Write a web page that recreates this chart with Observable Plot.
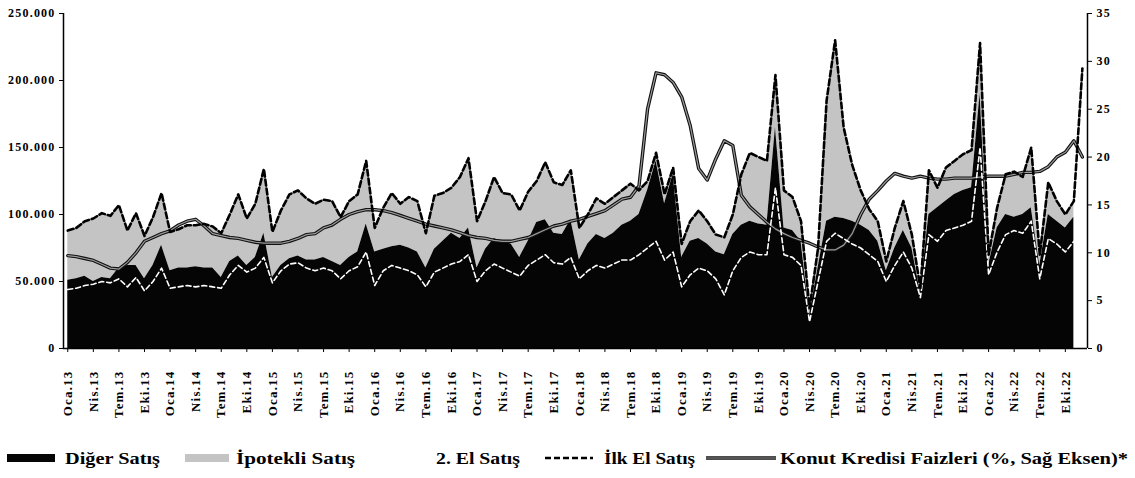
<!DOCTYPE html>
<html><head><meta charset="utf-8">
<script src="https://cdn.jsdelivr.net/npm/d3@7"></script>
<script src="https://cdn.jsdelivr.net/npm/@observablehq/plot@0.6"></script>
<style>
body{margin:0;background:#fff;}
#wrap{position:relative;width:1135px;height:478px;overflow:hidden;}
#legend{position:absolute;left:0;top:425px;}
</style></head><body><div id="wrap"><div id="chart"></div><div id="legend"></div></div>
<script>
// Tick labels (every 3 months)
const tickLabels = [
"Oca.13","Nis.13","Tem.13","Eki.13","Oca.14","Nis.14","Tem.14","Eki.14",
"Oca.15","Nis.15","Tem.15","Eki.15","Oca.16","Nis.16","Tem.16","Eki.16",
"Oca.17","Nis.17","Tem.17","Eki.17","Oca.18","Nis.18","Tem.18","Eki.18",
"Oca.19","Nis.19","Tem.19","Eki.19","Oca.20","Nis.20","Tem.20","Eki.20",
"Oca.21","Nis.21","Tem.21","Eki.21","Oca.22","Nis.22","Tem.22","Eki.22"];

// Toplam satış (thousand) = top of the İpotekli band
const toplam = [
 88, 90, 95, 97,101, 99,107, 88,101, 84, 98,116,
 87, 89, 92, 92, 93, 91, 86,100,115, 97,108,134,
 87,103,115,118,112,108,111,110, 98,110,115,140,
 90,105,116,108,113,110, 86,114,116,120,128,142,
 95,110,128,116,115,103,117,125,139,124,122,133,
 90,100,112,108,113,118,123,118,125,146,115,135,
 78, 95,103, 95, 85, 83,100,130,146,143,140,204,
118,113, 95, 30, 75,185,230,165,137,118,104, 95,
 65, 90,110, 85, 45,133,120,135,140,145,148,228,
 70,105,130,132,128,150, 70,124,110,100,110,209];

// Diğer satış (thousand)
const diger = [
 51, 52, 54, 50, 53, 52, 60, 62, 62, 52, 62, 77,
 58, 60, 60, 61, 60, 60, 53, 65, 69, 62, 68, 86,
 53, 62, 67, 69, 66, 66, 68, 65, 62, 68, 72, 93,
 72, 74, 76, 77, 75, 72, 60, 74, 80, 86, 82, 90,
 60, 74, 82, 80, 78, 68, 80, 94, 96, 86, 85, 96,
 66, 78, 85, 82, 86, 92, 95,100,118,140,108,130,
 68, 80, 82, 78, 72, 70, 85, 92, 95, 93, 92,165,
 90, 88, 80, 25, 60, 95, 98, 97, 95, 92, 88, 80,
 58, 75, 88, 75, 42,100,105,110,115,118,120,190,
 62, 90,100, 98,100,105, 62,100, 95, 90, 98,null];

// 2. El satış (thousand)
const ikinciEl = [
 44, 45, 47, 48, 50, 49, 52, 46, 53, 43, 50, 60,
 45, 46, 47, 46, 47, 46, 45, 55, 62, 57, 60, 68,
 49, 58, 63, 64, 60, 58, 60, 58, 52, 58, 61, 72,
 47, 58, 62, 60, 58, 55, 46, 57, 60, 63, 65, 70,
 50, 58, 63, 60, 57, 54, 62, 66, 70, 64, 63, 68,
 52, 58, 62, 60, 63, 66, 66, 70, 75, 80, 66, 72,
 46, 55, 60, 58, 52, 40, 58, 68, 72, 70, 70,120,
 70, 68, 62, 20, 50, 80, 86, 82, 78, 75, 70, 65,
 50, 62, 72, 60, 38, 85, 80, 88, 90, 92, 95,150,
 55, 72, 85, 88, 86, 95, 52, 82, 78, 72, 80,null];

// Konut kredisi faizleri (%)
const faiz = [
 9.7, 9.6, 9.4, 9.2, 8.8, 8.4, 8.3, 9.0,10.0,11.2,11.6,12.0,
12.3,12.9,13.3,13.5,12.8,12.0,11.8,11.6,11.5,11.3,11.1,11.0,
11.0,11.0,11.2,11.5,11.9,12.0,12.6,12.9,13.5,14.0,14.3,14.5,
14.5,14.4,14.2,13.9,13.6,13.3,13.0,12.8,12.6,12.4,12.1,11.8,
11.6,11.5,11.3,11.2,11.2,11.4,11.6,12.0,12.4,12.8,13.0,13.3,
13.5,13.8,14.1,14.4,15.0,15.6,15.8,17.0,25.0,28.8,28.6,27.8,
26.3,23.3,18.8,17.6,19.8,21.7,21.2,16.0,14.8,14.0,13.2,12.5,
12.0,11.6,11.3,11.0,10.6,10.3,10.3,10.8,12.0,14.0,15.6,16.5,
17.5,18.3,18.0,17.8,18.0,17.8,17.7,17.7,17.8,17.8,17.8,17.9,
18.0,18.0,18.0,18.2,18.4,18.4,18.5,19.0,20.0,20.5,21.7,20.0];

const rows = toplam.map((t, i) => ({i, toplam: t, diger: diger[i], ikinciEl: ikinciEl[i], faiz: faiz[i]}));
const areaRows = rows.filter(d => d.diger != null);
const K = 250 / 35; // right axis (0-35) onto left axis (0-250 thousand)
const font = "'Liberation Serif', 'Times New Roman', serif";

const chart = Plot.plot({
  width: 1135, height: 425,
  marginLeft: 63, marginRight: 48, marginTop: 13, marginBottom: 77,
  x: {type: "linear", domain: [-0.5, 119.6]},
  y: {domain: [0, 250]},
  style: {fontFamily: font, fontWeight: "bold", fontSize: "12px", letterSpacing: "1.2px", color: "#000", background: "#fff"},
  marks: [
    Plot.areaY(areaRows, {x: "i", y1: "diger", y2: "toplam", fill: "#c4c4c4"}),
    Plot.areaY(areaRows, {x: "i", y: "diger", fill: "#050505"}),
    Plot.lineY(rows, {x: "i", y: d => d.faiz * K, stroke: "#111", strokeWidth: 3.4}),
    Plot.lineY(rows, {x: "i", y: d => d.faiz * K, stroke: "#9a9a9a", strokeWidth: 1.2}),
    Plot.lineY(rows, {x: "i", y: "ikinciEl", stroke: "#fff", strokeWidth: 1.6, strokeDasharray: "5,3"}),
    Plot.lineY(rows, {x: "i", y: "toplam", stroke: "#000", strokeWidth: 2.6, strokeDasharray: "6,3"}),
    Plot.ruleX([-0.5], {stroke: "#000", strokeWidth: 1.5}),
    Plot.ruleX([119.6], {stroke: "#000", strokeWidth: 1.5}),
    Plot.ruleY([0], {stroke: "#000", strokeWidth: 1.5}),
    Plot.axisY({anchor: "left", ticks: [0, 50, 100, 150, 200, 250], tickSize: 4, tickPadding: 4,
      tickFormat: d => d === 0 ? "0" : `${d}.000`, label: null}),
    Plot.axisY({anchor: "right", ticks: d3.range(0, 36, 5).map(v => v * K), tickSize: 4, tickPadding: 5,
      tickFormat: v => String(Math.round(v / K)), label: null}),
    Plot.axisX({ticks: d3.range(0, 120, 3), tickFormat: v => tickLabels[v / 3], tickRotate: -90,
      tickSize: 4, tickPadding: 18, fontSize: 13, label: null})
  ]
});
document.getElementById("chart").appendChild(chart);

// Legend
const legendItems = [
  {label: "Diğer Satış", sw: "area", color: "#050505", sx: 7, sw2: 48, tx: 65, tw: 95},
  {label: "İpotekli Satış", sw: "area", color: "#c4c4c4", sx: 185, sw2: 44, tx: 236, tw: 119},
  {label: "2. El Satış", sw: "whiteDash", sx: 390, sw2: 40, tx: 436, tw: 84},
  {label: "İlk El Satış", sw: "dash", sx: 545, sw2: 48, tx: 604, tw: 91},
  {label: "Konut Kredisi Faizleri (%, Sağ Eksen)*", sw: "rate", sx: 706, sw2: 70, tx: 780, tw: 348}
];
const lsvg = d3.create("svg").attr("width", 1135).attr("height", 53)
  .style("font-family", font).style("font-weight", "bold").style("font-size", "16px");
const cy = 33;
for (const it of legendItems) {
  if (it.sw === "area") {
    lsvg.append("rect").attr("x", it.sx).attr("y", cy - 4).attr("width", it.sw2).attr("height", 8).attr("fill", it.color);
  } else if (it.sw === "dash") {
    lsvg.append("line").attr("x1", it.sx).attr("x2", it.sx + it.sw2).attr("y1", cy).attr("y2", cy)
      .attr("stroke", "#000").attr("stroke-width", 2.6).attr("stroke-dasharray", "6,3");
  } else if (it.sw === "whiteDash") {
    lsvg.append("line").attr("x1", it.sx).attr("x2", it.sx + it.sw2).attr("y1", cy).attr("y2", cy)
      .attr("stroke", "#fff").attr("stroke-width", 1.6).attr("stroke-dasharray", "5,3");
  } else {
    lsvg.append("line").attr("x1", it.sx).attr("x2", it.sx + it.sw2).attr("y1", cy).attr("y2", cy)
      .attr("stroke", "#111").attr("stroke-width", 3.4);
    lsvg.append("line").attr("x1", it.sx).attr("x2", it.sx + it.sw2).attr("y1", cy).attr("y2", cy)
      .attr("stroke", "#9a9a9a").attr("stroke-width", 1.2);
  }
  lsvg.append("text").attr("x", it.tx).attr("y", cy + 5.5).attr("textLength", it.tw)
    .attr("lengthAdjust", "spacingAndGlyphs").text(it.label);
}
document.getElementById("legend").appendChild(lsvg.node());
</script>
</body></html>
